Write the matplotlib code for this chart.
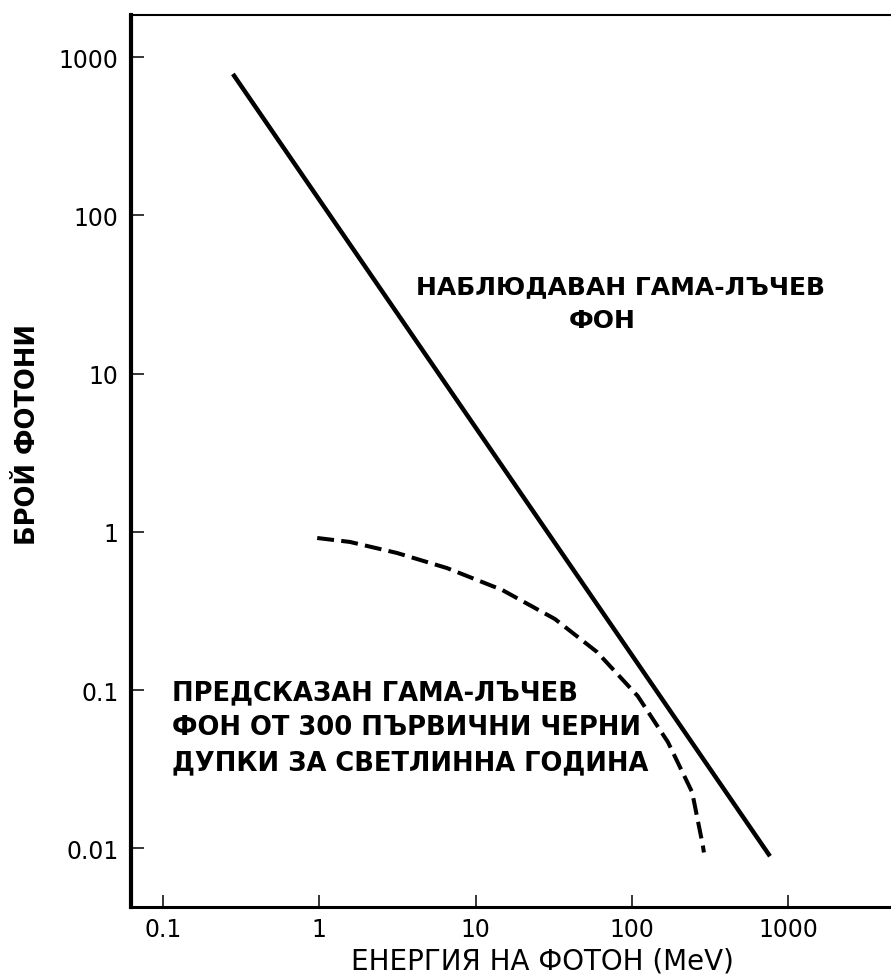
import matplotlib
matplotlib.use("Agg")
import matplotlib.pyplot as plt
from matplotlib.ticker import FixedLocator, FixedFormatter, NullLocator

plt.rcParams['font.family'] = ['DejaVu Sans']

# ---- data ----
observed_x = [0.28, 765]
observed_y = [784, 0.0089]

predicted_x = [0.97, 1.57, 3.14, 6.56, 14.8, 32.2, 59.8, 109, 170, 243, 285, 289]
predicted_y = [0.914, 0.863, 0.735, 0.590, 0.429, 0.281, 0.174, 0.0916, 0.0469, 0.0226, 0.0103, 0.0094]

x_ticks = [0.1, 1, 10, 100, 1000]
x_tick_labels = ["0.1", "1", "10", "100", "1000"]
y_ticks = [0.01, 0.1, 1, 10, 100, 1000]
y_tick_labels = ["0.01", "0.1", "1", "10", "100", "1000"]

x_label = "ЕНЕРГИЯ НА ФОТОН (MeV)"
y_label = "БРОЙ ФОТОНИ"
obs_text_1 = "НАБЛЮДАВАН ГАМА-ЛЪЧЕВ"
obs_text_2 = "ФОН"
pred_text = ["ПРЕДСКАЗАН ГАМА-ЛЪЧЕВ",
             "ФОН ОТ 300 ПЪРВИЧНИ ЧЕРНИ",
             "ДУПКИ ЗА СВЕТЛИННА ГОДИНА"]

W, H = 891, 978
fig = plt.figure(figsize=(W / 100, H / 100), dpi=100)

def fx(px):
    return px / W

def fy(py):
    return 1 - py / H

left, right, top, bottom = 131, 891, 16, 908
ax = fig.add_axes([fx(left), fy(bottom), fx(right) - fx(left), fy(top) - fy(bottom)])
ax.set_xscale('log')
ax.set_yscale('log')
ax.set_xlim(0.0624, 4550)
ax.set_ylim(0.00425, 1849)

ax.plot(observed_x, observed_y, color='black', lw=3.2, solid_capstyle='butt')
ax.plot(predicted_x, predicted_y, color='black', lw=2.9, linestyle=(0, (4.2, 1.8)))

ax.xaxis.set_major_locator(FixedLocator(x_ticks))
ax.xaxis.set_major_formatter(FixedFormatter(x_tick_labels))
ax.yaxis.set_major_locator(FixedLocator(y_ticks))
ax.yaxis.set_major_formatter(FixedFormatter(y_tick_labels))
ax.xaxis.set_minor_locator(NullLocator())
ax.yaxis.set_minor_locator(NullLocator())

ax.tick_params(axis='both', direction='in', length=9, width=1.1, labelsize=17, color='black')
ax.tick_params(axis='y', pad=9)
ax.tick_params(axis='x', pad=7)

ax.spines['right'].set_visible(False)
ax.spines['left'].set_linewidth(3.0)
ax.spines['bottom'].set_linewidth(2.2)
ax.spines['top'].set_linewidth(1.5)

fig.text(fx(542), fy(962), x_label, ha='center', va='center', fontsize=20)
fig.text(fx(28), fy(435), y_label, ha='center', va='center', fontsize=18.5,
         fontweight='bold', rotation=90)

fig.text(fx(620), fy(287), obs_text_1, ha='center', va='center', fontsize=18, fontweight='bold')
fig.text(fx(602), fy(321), obs_text_2, ha='center', va='center', fontsize=18, fontweight='bold')

for txt, yc in zip(pred_text, [693, 728, 763]):
    fig.text(fx(172), fy(yc), txt, ha='left', va='center', fontsize=18.5, fontweight='bold')

fig.savefig("out.png", dpi=100, facecolor='white')
